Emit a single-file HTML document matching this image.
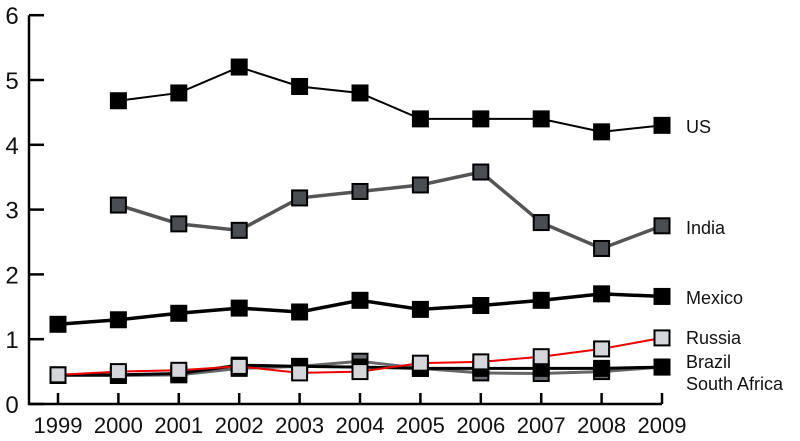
<!DOCTYPE html>
<html><head><meta charset="utf-8"><style>
body{margin:0;background:#fff;}
svg{display:block;font-family:"Liberation Sans",sans-serif;}
</style></head><body>
<svg id="chart" width="800" height="441"></svg>
<script>
const years=[1999,2000,2001,2002,2003,2004,2005,2006,2007,2008,2009];
const yTicks=[0,1,2,3,4,5,6];
const usVals=[null,4.68,4.8,5.2,4.9,4.8,4.4,4.4,4.4,4.2,4.3];
const indiaVals=[null,3.07,2.78,2.68,3.18,3.28,3.38,3.58,2.8,2.4,2.75];
const mexicoVals=[1.23,1.3,1.4,1.48,1.42,1.6,1.46,1.52,1.6,1.7,1.66];
const russiaVals=[0.45,0.5,0.52,0.58,0.48,0.5,0.63,0.65,0.73,0.85,1.02];
const brazilVals=[0.45,0.45,0.47,0.6,0.58,0.57,0.55,0.55,0.55,0.55,0.57];
const southAfricaVals=[0.44,0.44,0.45,0.55,0.58,0.66,0.55,0.48,0.47,0.5,0.57];
const ns="http://www.w3.org/2000/svg";
const svg=document.getElementById('chart');
const X0=58,DX=60.4,Y0=404,DY=64.8;
const xS=i=>X0+i*DX, yS=v=>Y0-v*DY;
function mk(t,a,p){const e=document.createElementNS(ns,t);for(const k in a)e.setAttribute(k,a[k]);(p||svg).appendChild(e);return e;}
let ax=mk('path',{d:`M29 ${yS(6)} V${Y0} H${xS(10)}`,fill:'none',stroke:'#000','stroke-width':2.5});


yTicks.forEach(v=>{
 let t=mk('line',{x1:29,x2:44,y1:yS(v),y2:yS(v),stroke:'#000','stroke-width':2.5});
 
 
 let l=mk('text',{x:12,y:yS(v)+9,'font-size':24,'text-anchor':'middle',fill:'#111'});
 l.textContent=v;
 
 
});
years.forEach((y,i)=>{
 let t=mk('line',{x1:xS(i),x2:xS(i),y1:Y0,y2:Y0-11,stroke:'#000','stroke-width':2.5});
 
 
 let l=mk('text',{x:xS(i),y:433,'font-size':22,'text-anchor':'middle',fill:'#111'});
 l.textContent=y;
 
 
});
function series(name,vals,line,lw,fill){
 const g=mk('g',{});
 
 
 const pts=vals.map((v,i)=>v==null?null:[xS(i),yS(v)]).filter(p=>p);
 let p=mk('polyline',{points:pts.map(p=>p.join(',')).join(' '),fill:'none',stroke:line,'stroke-width':lw},g);
 
 
 pts.forEach(q=>{
  let r=mk('rect',{x:q[0]-7.5,y:q[1]-7.5,width:15,height:15,fill:fill,stroke:'#000','stroke-width':2},g);
  
  
 });
}
series('south-africa',southAfricaVals,'#666',3,'#6b6e72');
series('brazil',brazilVals,'#000',3,'#000');
series('russia',russiaVals,'#e00',2,'#d4d6da');
series('mexico',mexicoVals,'#000',3.5,'#000');
series('india',indiaVals,'#555',3.5,'#4a4d52');
series('us',usVals,'#000',2,'#000');
const labels=[['US',127],['India',228],['Mexico',298],['Russia',338],['Brazil',362],['South Africa',384]];
labels.forEach(([t,y])=>{
 let l=mk('text',{x:686,y:y+6,'font-size':18,fill:'#111'});
 l.textContent=t;
 
 
});
</script>
</body></html>
